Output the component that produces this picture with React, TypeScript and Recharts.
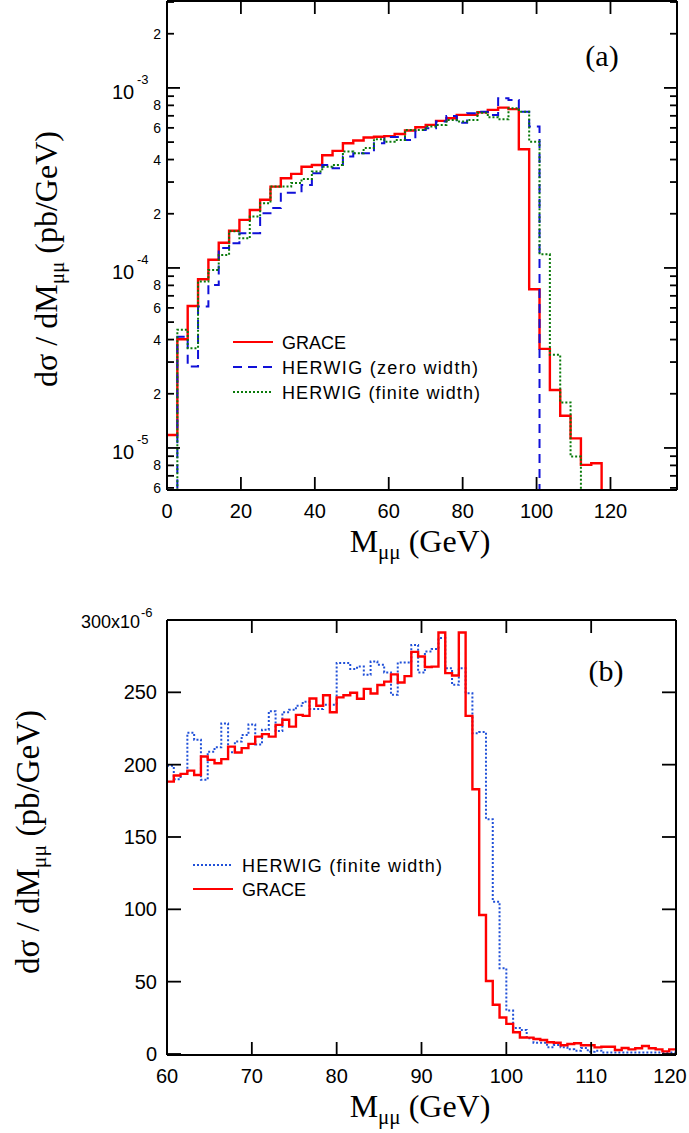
import React from 'react';
import { LineChart, Line, XAxis, YAxis } from 'recharts';

const SANS = '"Liberation Sans", Arial, Helvetica, sans-serif';
const SERIF = '"Liberation Serif", "Times New Roman", Times, serif';

// ---- panel (a): log histogram, 2.8 GeV bins from 0 ----
const A_BIN = 2.8;
const A_GRACE = [
  1.18e-5, 4.02e-5, 6.15e-5, 8.65e-5, 1.11e-4, 1.38e-4, 1.61e-4, 1.85e-4, 2.1e-4, 2.39e-4,
  2.83e-4, 3.15e-4, 3.33e-4, 3.65e-4, 3.73e-4, 4.23e-4, 4.47e-4, 4.93e-4, 5.1e-4, 5.3e-4,
  5.35e-4, 5.4e-4, 5.55e-4, 5.8e-4, 6.05e-4, 6.23e-4, 6.56e-4, 6.79e-4, 7.08e-4, 7.08e-4,
  7.33e-4, 7.55e-4, 7.77e-4, 7.62e-4, 4.56e-4, 7.62e-5, 3.55e-5, 2.1e-5, 1.51e-5, 1.13e-5,
  8.05e-6, 8.22e-6,
];
const A_HERWIG_ZERO = [
  null, 4.15e-5, 2.83e-5, 6.1e-5, 8.05e-5, 1.29e-4, 1.37e-4, 1.56e-4, 1.56e-4, 2.01e-4,
  2.15e-4, 2.62e-4, 2.62e-4, 2.89e-4, 3.36e-4, 3.73e-4, 3.58e-4, 4.16e-4, 4.34e-4, 4.34e-4,
  4.93e-4, 5.33e-4, 5.33e-4, 5.14e-4, 5.84e-4, 5.97e-4, 6.5e-4, 6.99e-4, 6.41e-4, 7.23e-4,
  7.38e-4, 7.08e-4, 8.77e-4, 8.58e-4, 7.38e-4, 6.1e-4,
];
const A_HERWIG_FINITE = [
  null, 4.53e-5, 3.58e-5, 8.4e-5, 9.75e-5, 1.18e-4, 1.6e-4, 1.46e-4, 1.93e-4, 2.29e-4,
  2.83e-4, 2.83e-4, 2.96e-4, 3.12e-4, 3.43e-4, 3.65e-4, 3.73e-4, 4.43e-4, 4.34e-4, 4.63e-4,
  5.19e-4, 5.03e-4, 5.14e-4, 5.84e-4, 5.84e-4, 6.1e-4, 6.23e-4, 6.64e-4, 6.5e-4, 6.64e-4,
  7.29e-4, 6.87e-4, 6.7e-4, 7.71e-4, 7.38e-4, 5.03e-4, 1.19e-4, 3.29e-5, 1.79e-5, 8.95e-6,
];
const A_X_TICKS = [0, 20, 40, 60, 80, 100, 120];
const A_Y_TICKS = [
  6e-6, 7e-6, 8e-6, 9e-6,
  1e-5, 2e-5, 3e-5, 4e-5, 5e-5, 6e-5, 7e-5, 8e-5, 9e-5,
  1e-4, 2e-4, 3e-4, 4e-4, 5e-4, 6e-4, 7e-4, 8e-4, 9e-4,
  1e-3, 2e-3, 3e-3,
];
const A_X_DOMAIN = [0, 138];
const A_Y_DOMAIN = [5.84e-6, 3.04e-3];

// ---- panel (b): linear histogram, 0.8 GeV bins from 60 ----
const B_START = 60;
const B_BIN = 0.8;
const B_GRACE = [
  188.3, 192.5, 193.6, 195.9, 192.9, 205.6, 203.3, 201, 203.8, 212.5,
  208.4, 211.4, 214.4, 219.4, 221.1, 219.4, 227.5, 231, 226.3, 234.4,
  233.7, 245.7, 240.7, 248, 236.2, 246.5, 248, 249.7, 245.6, 252.4,
  249.2, 255.1, 257.4, 262.4, 256.8, 261.2, 278, 274.8, 267.5, 267.8,
  291.4, 263.3, 261.6, 291.4, 233.7, 183, 96.1, 50.5, 34, 25.2,
  20.8, 15, 11.4, 11.3, 10.4, 9.7, 8.1, 7.8, 6, 6.9,
  7.4, 6, 6, 4.6, 5, 5, 2.8, 4.1, 3.2, 4,
  5.5, 4, 3.2, 1.8, 3.2,
];
const B_HERWIG_FINITE = [
  199.2, 190, 193.5, 222, 217.2, 189.5, 209, 212, 228.5, 208.5,
  216, 220.5, 227.8, 214, 224.1, 237, 223.2, 236.2, 237.9, 240.7,
  243.5, 238.4, 238.4, 241.4, 241.4, 270.2, 270.2, 266.1, 267.8, 262.1,
  271.3, 269, 263.7, 248.3, 270.6, 270.6, 282.8, 263.7, 278.2, 279.9,
  287.5, 266.7, 255.2, 266.7, 249.4, 221.8, 222.5, 162.3, 105.3, 59.3,
  30, 18, 16.6, 10.8, 7.8, 7.8, 4.6, 6.2, 4.6, 3.2,
  2.3, 4.1, 1.6, 2.3, 1, 1, 1, 1, 1, 1,
  1, 1, 1, 1, 1,
];
const B_X_TICKS = [60, 70, 80, 90, 100, 110, 120];
const B_Y_TICKS = [0, 50, 100, 150, 200, 250, 300];
const B_Y_DOMAIN = [-0.7, 300];

// values below the log axis: drawn off the bottom and clipped
const FLOOR = 1e-7;

const stepValue = (arr: (number | null)[], k: number) => {
  if (k < arr.length) return arr[k] ?? FLOOR;
  if (k === arr.length) return FLOOR;
  return null;
};

const aRows = Array.from({ length: A_GRACE.length + 1 }, (_, k) => ({
  m: +(k * A_BIN).toFixed(2),
  grace: stepValue(A_GRACE, k),
  zero: stepValue(A_HERWIG_ZERO, k),
  finite: stepValue(A_HERWIG_FINITE, k),
}));

const bRows = Array.from({ length: B_GRACE.length + 1 }, (_, k) => {
  const i = Math.min(k, B_GRACE.length - 1);
  return {
    m: +(B_START + k * B_BIN).toFixed(2),
    grace: B_GRACE[i],
    finite: B_HERWIG_FINITE[i],
  };
});

const AXIS = { stroke: '#000', strokeWidth: 2 };
const RED = '#ff0000';
const BLUE = '#1010d8';
const GREEN = '#0a7a0a';
const BLUE_B = '#2050d8';

const logParts = (v: number) => {
  const exp = Math.floor(Math.log10(v) + 1e-6);
  const mant = Math.round(v / Math.pow(10, exp));
  return { exp, mant };
};

function LogTickLeft({ x, y, payload }: any) {
  const { exp, mant } = logParts(payload.value);
  const major = mant === 1;
  return (
    <g>
      <line x1={x} y1={y} x2={x + (major ? 13 : 7)} y2={y} stroke="#000" strokeWidth={1.8} />
      {major ? (
        <>
          <text x={x - 55} y={y + 11} fontSize={20} fontFamily={SANS} fill="#000">10</text>
          <text x={x - 30} y={y - 4} fontSize={13} fontFamily={SANS} fill="#000">{exp}</text>
        </>
      ) : mant % 2 === 0 ? (
        <text x={x - 6} y={y + 5} textAnchor="end" fontSize={14} fontFamily={SANS} fill="#000">
          {mant}
        </text>
      ) : null}
    </g>
  );
}

function LogTickRight({ x, y, payload }: any) {
  const { mant } = logParts(payload.value);
  return <line x1={x} y1={y} x2={x - (mant === 1 ? 13 : 7)} y2={y} stroke="#000" strokeWidth={1.8} />;
}

function XTickBottom({ x, y, payload, maxLabelX }: any) {
  const lx = maxLabelX ? Math.min(x, maxLabelX) : x;
  return (
    <g>
      <line x1={x} y1={y} x2={x} y2={y - 13} stroke="#000" strokeWidth={1.8} />
      <text x={lx} y={y + 28} textAnchor="middle" fontSize={20} fontFamily={SANS} fill="#000">
        {payload.value}
      </text>
    </g>
  );
}

function XTickTop({ x, y }: any) {
  return <line x1={x} y1={y} x2={x} y2={y + 13} stroke="#000" strokeWidth={1.8} />;
}

function LinTickLeft({ x, y, payload }: any) {
  const v = payload.value;
  return (
    <g>
      <line x1={x} y1={y} x2={x + 14} y2={y} stroke="#000" strokeWidth={1.8} />
      {v === 300 ? (
        <>
          <text x={x - 27} y={y + 8} textAnchor="end" fontSize={18} fontFamily={SANS} fill="#000">300x10</text>
          <text x={x - 26} y={y - 3} fontSize={13} fontFamily={SANS} fill="#000">-6</text>
        </>
      ) : (
        <text x={x - 10} y={y + 7} textAnchor="end" fontSize={20} fontFamily={SANS} fill="#000">{v}</text>
      )}
    </g>
  );
}

function LinTickRight({ x, y }: any) {
  return <line x1={x} y1={y} x2={x - 14} y2={y} stroke="#000" strokeWidth={1.8} />;
}

function YTitle({ x, y, size }: { x: number; y: number; size: number }) {
  return (
    <g transform={`translate(${x},${y}) rotate(-90)`}>
      <text textAnchor="middle" fontSize={size} fontFamily={SERIF} fill="#000">
        dσ / dM
        <tspan fontSize={size * 0.66} dy={7}>μμ</tspan>
        <tspan dy={-7}>{' (pb/GeV)'}</tspan>
      </text>
    </g>
  );
}

function XTitle({ x, y }: { x: number; y: number }) {
  return (
    <text x={x} y={y} textAnchor="middle" fontSize={32} fontFamily={SERIF} fill="#000">
      M
      <tspan fontSize={21} dy={7}>μμ</tspan>
      <tspan dy={-7}>{' (GeV)'}</tspan>
    </text>
  );
}

function LegendRow({ x, y, label, stroke, dash, width }: any) {
  return (
    <g>
      <line x1={x} y1={y} x2={x + 40} y2={y} stroke={stroke} strokeWidth={2} strokeDasharray={dash} />
      <text x={x + 49} y={y + 7} fontSize={18} fontFamily={SANS} fill="#000" textLength={width}>
        {label}
      </text>
    </g>
  );
}

// axes are 1px thick so recharts still draws them; margins absorb that pixel
const axisCommon = {
  interval: 0 as const,
  tickSize: 0,
  tickMargin: 0,
  tickLine: false,
  axisLine: AXIS,
  allowDataOverflow: true,
};

export default function App() {
  return (
    <div style={{ position: 'absolute', left: 0, top: 0, width: 689, height: 1133, background: '#fff' }}>
      <div style={{ position: 'absolute', left: 0, top: 0 }}>
        <LineChart width={689} height={572} data={aRows} margin={{ top: 0, right: 11, bottom: 81, left: 166 }}>
          <XAxis {...axisCommon} xAxisId="b" dataKey="m" type="number" domain={A_X_DOMAIN}
            ticks={A_X_TICKS} height={1} tick={<XTickBottom />} />
          <XAxis {...axisCommon} xAxisId="t" orientation="top" dataKey="m" type="number" domain={A_X_DOMAIN}
            ticks={A_X_TICKS} height={1} tick={<XTickTop />} />
          <YAxis {...axisCommon} yAxisId="l" type="number" scale="log" domain={A_Y_DOMAIN}
            ticks={A_Y_TICKS} width={1} tick={<LogTickLeft />} />
          <YAxis {...axisCommon} yAxisId="r" orientation="right" type="number" scale="log" domain={A_Y_DOMAIN}
            ticks={A_Y_TICKS} width={1} tick={<LogTickRight />} />
          <Line xAxisId="b" yAxisId="l" dataKey="grace" type="stepAfter" stroke={RED} strokeWidth={2.4}
            dot={false} activeDot={false} isAnimationActive={false} />
          <Line xAxisId="b" yAxisId="l" dataKey="zero" type="stepAfter" stroke={BLUE} strokeWidth={2}
            strokeDasharray="9 6" dot={false} activeDot={false} isAnimationActive={false} />
          <Line xAxisId="b" yAxisId="l" dataKey="finite" type="stepAfter" stroke={GREEN} strokeWidth={2}
            strokeDasharray="2 2" dot={false} activeDot={false} isAnimationActive={false} />
          <LegendRow x={233} y={342} label="GRACE" stroke={RED} />
          <LegendRow x={233} y={367} label="HERWIG (zero width)" stroke={BLUE} dash="9 6" width={196} />
          <LegendRow x={233} y={392} label="HERWIG (finite width)" stroke={GREEN} dash="2 2" width={198} />
          <text x={602} y={66} textAnchor="middle" fontSize={30} fontFamily={SERIF} fill="#000">(a)</text>
          <YTitle x={57} y={259} size={32} />
          <XTitle x={420} y={552} />
        </LineChart>
      </div>
      <div style={{ position: 'absolute', left: 0, top: 575 }}>
        <LineChart width={689} height={555} data={bRows} margin={{ top: 44, right: 12, bottom: 74, left: 166 }}>
          <XAxis {...axisCommon} xAxisId="b" dataKey="m" type="number" domain={[60, 120]}
            ticks={B_X_TICKS} height={1} tick={<XTickBottom maxLabelX={670} />} />
          <XAxis {...axisCommon} xAxisId="t" orientation="top" dataKey="m" type="number" domain={[60, 120]}
            ticks={B_X_TICKS} height={1} tick={<XTickTop />} />
          <YAxis {...axisCommon} yAxisId="l" type="number" domain={B_Y_DOMAIN}
            ticks={B_Y_TICKS} width={1} tick={<LinTickLeft />} />
          <YAxis {...axisCommon} yAxisId="r" orientation="right" type="number" domain={B_Y_DOMAIN}
            ticks={B_Y_TICKS} width={1} tick={<LinTickRight />} />
          <Line xAxisId="b" yAxisId="l" dataKey="finite" type="stepAfter" stroke={BLUE_B} strokeWidth={2}
            strokeDasharray="2 2" dot={false} activeDot={false} isAnimationActive={false} />
          <Line xAxisId="b" yAxisId="l" dataKey="grace" type="stepAfter" stroke={RED} strokeWidth={2.4}
            dot={false} activeDot={false} isAnimationActive={false} />
          <LegendRow x={193} y={290} label="HERWIG (finite width)" stroke={BLUE_B} dash="2 2" width={200} />
          <LegendRow x={193} y={314} label="GRACE" stroke={RED} />
          <text x={606} y={106} textAnchor="middle" fontSize={30} fontFamily={SERIF} fill="#000">(b)</text>
          <YTitle x={39} y={267} size={33} />
          <XTitle x={420} y={542} />
        </LineChart>
      </div>
    </div>
  );
}
